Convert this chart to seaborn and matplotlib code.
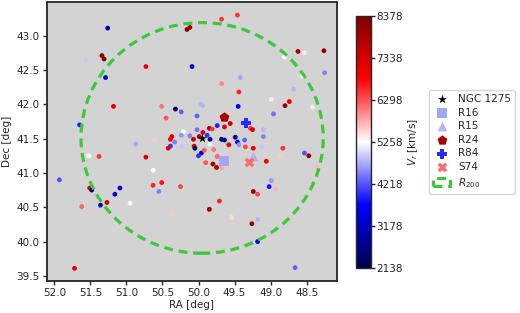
import numpy as np
import pandas as pd
import matplotlib
matplotlib.use("Agg")
import matplotlib.pyplot as plt
import seaborn as sns
from matplotlib.patches import Circle
from matplotlib.colors import Normalize
from matplotlib.cm import ScalarMappable

# galaxy positions (deg) and radial velocities (km/s)
ra = [51.26, 51.56, 51.34, 51.31, 51.29, 51.18, 51.65, 50.87, 50.73, 50.51,
      50.32, 50.45, 50.61, 50.16, 50.12, 49.68, 49.46, 50.09, 49.68, 49.44,
      49.42, 50.24, 49.97, 49.94, 50.02, 49.45, 49.74, 49.64, 49.56, 49.85,
      49.81, 50.02, 50.21, 50.24, 49.94, 49.88, 49.99, 49.84, 49.68, 49.64,
      49.49, 49.46, 49.58, 50.37, 50.39, 50.33, 50.07, 50.26, 48.62, 48.53,
      48.26, 48.81, 48.25, 48.56, 48.68, 48.99, 48.74, 48.80, 48.42, 48.96,
      49.28, 49.25, 49.10, 49.10, 49.36, 51.52, 51.38, 51.93, 51.51, 51.48,
      51.09, 51.16, 51.62, 51.36, 51.27, 50.95, 51.72, 50.73, 50.63, 50.51,
      50.63, 50.55, 50.25, 50.38, 49.85, 49.71, 49.54, 49.80, 49.75, 49.90,
      49.68, 50.06, 50.05, 49.96, 50.00, 49.92, 49.84, 49.79, 50.39, 50.42,
      50.23, 49.35, 49.24, 48.83, 48.875, 48.53, 48.47, 48.36, 49.06, 48.99,
      49.02, 48.93, 49.24, 49.18, 49.18, 49.26, 49.18, 48.66, 50.12, 49.44,
      49.12, 49.74]
dec = [43.11, 42.64, 42.71, 42.66, 42.39, 41.97, 41.70, 41.42, 42.55, 41.97,
       41.93, 41.80, 41.48, 43.09, 43.12, 43.24, 43.30, 42.55, 42.30, 42.18,
       42.39, 41.89, 42.00, 41.98, 41.83, 41.97, 41.69, 41.67, 41.72, 41.65,
       41.64, 41.63, 41.60, 41.55, 41.59, 41.55, 41.53, 41.49, 41.49, 41.48,
       41.52, 41.45, 41.41, 41.53, 41.49, 41.45, 41.49, 41.43, 42.77, 42.75,
       42.78, 42.69, 42.46, 42.41, 42.22, 42.07, 42.04, 41.98, 41.96, 41.86,
       41.65, 41.63, 41.63, 41.53, 41.48, 41.25, 41.24, 40.90, 40.78, 40.75,
       40.78, 40.69, 40.51, 40.53, 40.57, 40.56, 39.61, 41.23, 41.04, 40.86,
       40.82, 40.73, 40.80, 40.41, 40.47, 40.59, 40.35, 41.13, 41.08, 41.15,
       41.07, 41.39, 41.36, 41.29, 41.25, 41.33, 41.42, 41.34, 41.39, 41.36,
       41.39, 41.38, 41.36, 41.36, 41.25, 41.29, 41.25, 41.08, 41.17, 40.89,
       40.80, 40.76, 40.73, 40.69, 40.32, 40.26, 40.00, 39.62, 41.54, 41.41,
       41.38, 41.24]
vr = [3000, 4900, 8200, 8300, 3200, 7100, 3900, 4700, 6900, 6100,
      2300, 6300, 5600, 8200, 8100, 6500, 6500, 3500, 6000, 6600,
      4700, 4300, 4800, 4800, 4300, 3500, 3900, 7200, 7400, 7900,
      6500, 4400, 5300, 4600, 7300, 4000, 7800, 2800, 2500, 2800,
      2600, 3600, 7000, 7300, 6800, 4500, 7500, 5000, 8000, 5400,
      8200, 5300, 4500, 5300, 4800, 5400, 7100, 8000, 5400, 4400,
      6500, 7300, 4800, 4500, 4300, 5300, 6500, 4200, 7200, 2600,
      3300, 3300, 6200, 3100, 7300, 5300, 7200, 7200, 5300, 6700,
      6600, 4500, 6400, 5600, 8000, 6600, 5500, 8000, 7900, 6300,
      5800, 7300, 2400, 3200, 4000, 6300, 5200, 6100, 4000, 7000,
      4900, 6400, 7000, 6500, 5600, 4200, 8100, 5700, 7000, 4600,
      3800, 5700, 8100, 6400, 4800, 8000, 3600, 4300, 4500, 4600,
      4900, 6200]

# special objects
obj_names = ["NGC 1275", "R16", "R15", "R24", "R84", "S74"]
obj_ra = [49.95, 49.64, 49.24, 49.64, 49.34, 49.30]
obj_dec = [41.51, 41.17, 41.25, 41.81, 41.73, 41.16]
r200 = 1.68
vmin, vmax = 2138, 8378

df = pd.DataFrame({"RA": ra, "Dec": dec, "Vr": vr})

sns.set_style("ticks")
plt.rcParams["font.family"] = ["DejaVu Sans"]
plt.rcParams["font.size"] = 7.5

fig = plt.figure(figsize=(5.2, 3.13), dpi=100)
ax = fig.add_axes([0.0898, 0.1032, 0.5588, 0.889])
cax = fig.add_axes([0.6846, 0.1438, 0.0288, 0.805])
ax.set_facecolor("lightgray")

norm = Normalize(vmin=vmin, vmax=vmax)
sns.scatterplot(data=df, x="RA", y="Dec", hue="Vr", palette="seismic",
                hue_norm=norm, s=12, linewidth=0, legend=False, ax=ax, zorder=3)

styles = [("*", "black", 45), ("s", "#a3a6f7", 55), ("^", "#b4b6f2", 50),
          ("p", "#a80000", 55), ("P", "#2a2aff", 55), ("X", "#ff6b6b", 50)]
for name, x, y, (m, c, s) in zip(obj_names, obj_ra, obj_dec, styles):
    ax.scatter(x, y, marker=m, color=c, s=s, linewidths=0, label=name, zorder=5)

circ = Circle((obj_ra[0], obj_dec[0]), r200, fill=False, edgecolor="#3cc83c",
              linewidth=2.3, linestyle=(0, (2.8, 1.8)), label="$R_{200}$", zorder=4)
ax.add_patch(circ)

ax.set_xlim(52.106, 48.075)
ax.set_ylim(39.43, 43.484)
ax.set_xticks([52.0, 51.5, 51.0, 50.5, 50.0, 49.5, 49.0, 48.5])
ax.set_yticks([39.5, 40.0, 40.5, 41.0, 41.5, 42.0, 42.5, 43.0])
ax.set_xlabel("RA [deg]", labelpad=2)
ax.set_ylabel("Dec [deg]", labelpad=3)
ax.tick_params(length=3, width=1, pad=2, labelsize=7.5)
for sp in ax.spines.values():
    sp.set_linewidth(1.3)

sm = ScalarMappable(norm=norm, cmap="seismic")
cb = fig.colorbar(sm, cax=cax)
cb.set_ticks(np.linspace(vmin, vmax, 7))
cb.set_ticklabels([f"{int(t)}" for t in np.linspace(vmin, vmax, 7)])
cb.ax.tick_params(length=3, width=1, pad=1, labelsize=7.5)
cb.set_label("$V_r$ [km/s]", labelpad=2)
cb.outline.set_linewidth(1.0)

fig.legend(loc="upper left", bbox_to_anchor=(0.815, 0.73), fontsize=7.5,
           frameon=True, handlelength=1.6, borderpad=0.4, labelspacing=0.35,
           handletextpad=0.8)

fig.savefig("out.png", dpi=100)
